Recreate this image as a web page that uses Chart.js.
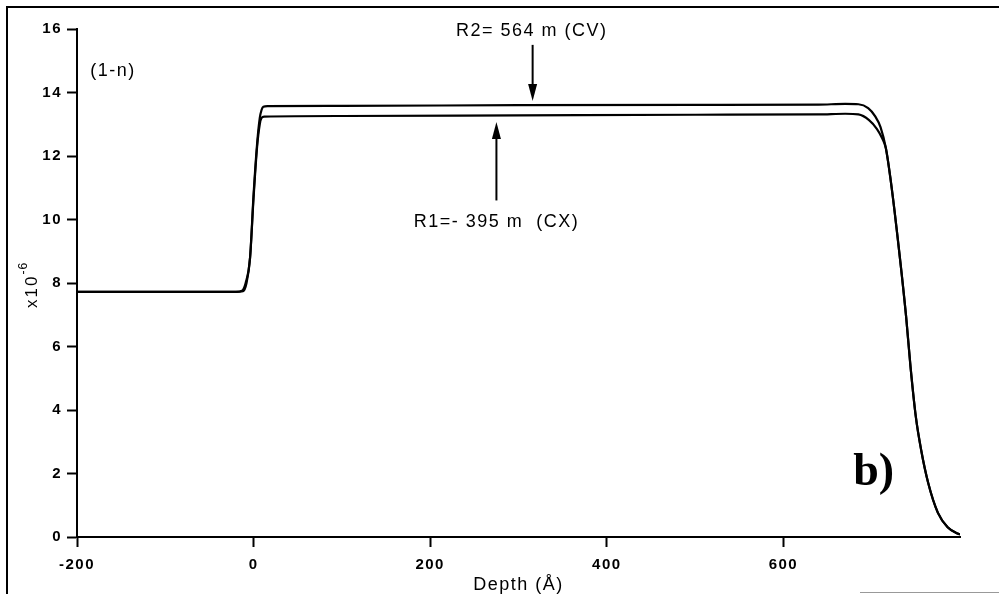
<!DOCTYPE html>
<html>
<head>
<meta charset="utf-8">
<script src="https://cdn.jsdelivr.net/npm/chart.js@4.4.1/dist/chart.umd.min.js"></script>
<style>
  html, body { margin: 0; padding: 0; background: #fff; }
  #wrap { width: 999px; height: 594px; position: relative; }
</style>
</head>
<body>
<div id="wrap"><canvas id="myChart" width="999" height="594"></canvas></div>
<script>
// R2 = 564 m (CV) - upper curve
const depthCV = [-200, -20, -13, -9, -4, 0, 4, 7, 9, 11, 16, 100, 300, 500, 640, 670, 685, 696, 704, 710, 716, 721, 728, 739, 744, 750, 756, 764, 775, 786, 798, 800];
const valueCV = [7.72, 7.72, 7.76, 8.0, 8.8, 10.8, 12.4, 13.2, 13.45, 13.55, 13.57, 13.58, 13.6, 13.61, 13.62, 13.64, 13.63, 13.51, 13.25, 12.91, 12.25, 11.34, 9.76, 6.93, 5.35, 3.78, 2.74, 1.70, 0.76, 0.31, 0.1, 0.08];

// R1 = -395 m (CX) - lower curve
const depthCX = [-200, -20, -12, -8, -4, 0, 4, 7, 9, 12, 100, 300, 500, 640, 670, 685, 697, 706, 712, 716, 721, 728, 739, 744, 750, 756, 764, 775, 786, 798, 800];
const valueCX = [7.72, 7.72, 7.74, 8.0, 8.8, 10.7, 12.3, 13.0, 13.2, 13.24, 13.26, 13.28, 13.3, 13.31, 13.33, 13.31, 13.13, 12.85, 12.55, 12.25, 11.34, 9.76, 6.93, 5.35, 3.78, 2.74, 1.70, 0.76, 0.31, 0.1, 0.08];

const xTicks = [-200, 0, 200, 400, 600];
const yTicks = [0, 2, 4, 6, 8, 10, 12, 14, 16];

const toPoints = (xs, ys) => xs.map((x, i) => ({ x: x, y: ys[i] }));

const decor = {
  id: 'decor',
  beforeDraw(chart) {
    chart.ctx.letterSpacing = '1.5px';
  },
  afterDraw(chart) {
    const ctx = chart.ctx;
    const xs = chart.scales.x, ys = chart.scales.y;
    const px = v => xs.getPixelForValue(v);
    const py = v => ys.getPixelForValue(v);
    ctx.save();
    ctx.strokeStyle = '#000';
    ctx.fillStyle = '#000';

    // scanned page frame
    ctx.lineWidth = 2;
    ctx.beginPath();
    ctx.moveTo(7, 594);
    ctx.lineTo(7, 7);
    ctx.lineTo(999, 7);
    ctx.stroke();
    ctx.strokeStyle = '#999';
    ctx.lineWidth = 1;
    ctx.beginPath();
    ctx.moveTo(860, 592.5);
    ctx.lineTo(999, 592.5);
    ctx.stroke();
    ctx.strokeStyle = '#000';

    // arrows
    const arrow = (x, yFrom, yTo) => {
      const dir = yTo > yFrom ? 1 : -1;
      ctx.lineWidth = 2;
      ctx.beginPath();
      ctx.moveTo(x, yFrom);
      ctx.lineTo(x, yTo - dir * 14);
      ctx.stroke();
      ctx.beginPath();
      ctx.moveTo(x, yTo);
      ctx.lineTo(x - 4.5, yTo - dir * 17);
      ctx.lineTo(x + 4.5, yTo - dir * 17);
      ctx.closePath();
      ctx.fill();
    };
    arrow(px(316), py(15.5), py(13.73));
    arrow(px(275), py(10.6), py(13.07));

    ctx.font = '18px "Liberation Sans", Arial, sans-serif';
    ctx.textBaseline = 'middle';
    ctx.textAlign = 'center';
    ctx.fillText('R2= 564 m (CV)', px(315), py(15.94));
    ctx.fillText('R1=- 395 m  (CX)', px(275), py(9.92));
    ctx.textAlign = 'left';
    ctx.font = '18px "Liberation Sans", Arial, sans-serif';
    ctx.fillText('(1-n)', px(-185), py(14.68));

    // panel letter
    ctx.font = 'bold 46px "Liberation Serif", "Times New Roman", serif';
    ctx.textBaseline = 'alphabetic';
    ctx.letterSpacing = '0px';
    ctx.fillText('b)', px(679), py(1.64));

    // y axis title x10^-6 (rotated)
    ctx.translate(chart.chartArea.left - 40, 308);
    ctx.rotate(-Math.PI / 2);
    ctx.textAlign = 'left';
    ctx.font = '17px "Liberation Sans", Arial, sans-serif';
    ctx.letterSpacing = '2px';
    ctx.fillText('x10', 0, 0);
    const w = ctx.measureText('x10').width;
    ctx.font = '12px "Liberation Sans", Arial, sans-serif';
    ctx.letterSpacing = '1px';
    ctx.fillText('-6', w, -10);
    ctx.restore();
  }
};

const ctx = document.getElementById('myChart');
const myChart = new Chart(ctx, {
  type: 'line',
  data: {
    datasets: [{
      label: 'R2= 564 m (CV)',
      data: toPoints(depthCV, valueCV),
      borderColor: '#000',
      borderWidth: 2.2,
      pointRadius: 0,
      cubicInterpolationMode: 'monotone',
      fill: false
    }, {
      label: 'R1=- 395 m (CX)',
      data: toPoints(depthCX, valueCX),
      borderColor: '#000',
      borderWidth: 2.2,
      pointRadius: 0,
      cubicInterpolationMode: 'monotone',
      fill: false
    }]
  },
  options: {
    responsive: false,
    animation: false,
    events: [],
    layout: { padding: { left: 0, top: 29, right: 39, bottom: 0 } },
    plugins: { legend: { display: false }, tooltip: { enabled: false } },
    scales: {
      x: {
        type: 'linear',
        min: -200,
        max: 800,
        afterBuildTicks: s => { s.ticks = xTicks.map(v => ({ value: v })); },
        afterFit: s => { s.height = 57; },
        border: { display: true, color: '#000', width: 2 },
        grid: { drawOnChartArea: false, drawTicks: true, tickLength: 10, color: '#000', tickWidth: 2 },
        ticks: {
          color: '#000',
          padding: 9,
          maxRotation: 0,
          font: { family: '"Liberation Sans", Arial, sans-serif', size: 15, weight: 'bold' }
        },
        title: {
          display: true,
          text: 'Depth (Å)',
          color: '#000',
          padding: { top: 0, bottom: 0 },
          font: { family: '"Liberation Sans", Arial, sans-serif', size: 18, lineHeight: 1.0 }
        }
      },
      y: {
        min: 0,
        max: 16,
        afterBuildTicks: s => { s.ticks = yTicks.map(v => ({ value: v })); },
        afterFit: s => { s.width = 77; },
        border: { display: true, color: '#000', width: 2 },
        grid: { drawOnChartArea: false, drawTicks: true, tickLength: 10, color: '#000', tickWidth: 2 },
        ticks: {
          color: '#000',
          padding: 5,
          font: { family: '"Liberation Sans", Arial, sans-serif', size: 15, weight: 'bold' }
        }
      }
    }
  },
  plugins: [decor]
});
</script>
</body>
</html>
